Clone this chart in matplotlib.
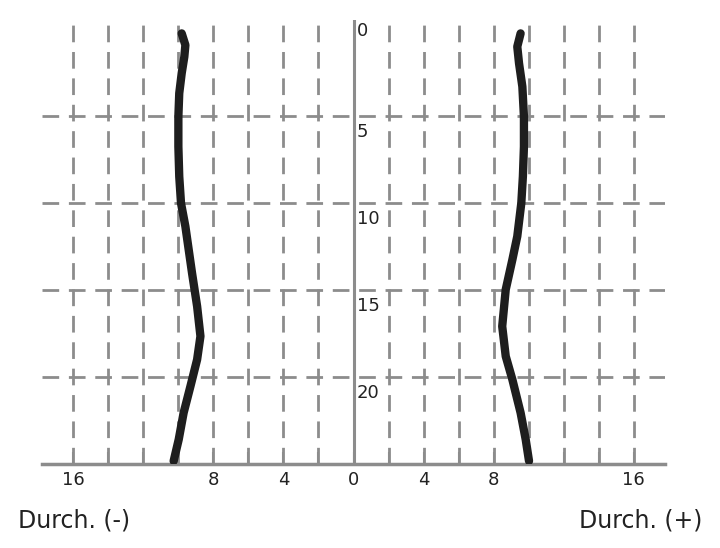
import numpy as np
import matplotlib.pyplot as plt

# depth values (y) and diameters
depth_l = [0.25, 0.92, 1.59, 2.54, 3.69, 5.03, 6.75, 8.47, 10.0, 11.34, 12.68,
           14.02, 15.93, 17.65, 18.99, 20.52, 22.05, 23.58, 24.82]
left_x = [-9.81, -9.6, -9.66, -9.81, -9.95, -10.0, -10.0, -9.95, -9.85, -9.6, -9.41,
          -9.22, -8.93, -8.74, -8.93, -9.31, -9.7, -9.98, -10.27]
depth_r = [0.25, 1.01, 1.97, 3.31, 5.03, 6.75, 8.47, 10.0, 11.91, 13.25,
           14.97, 17.08, 18.8, 20.14, 22.05, 23.58, 24.82]
right_x = [9.54, 9.35, 9.45, 9.64, 9.73, 9.73, 9.67, 9.58, 9.35, 9.07,
           8.69, 8.49, 8.69, 9.07, 9.54, 9.83, 10.02]

xticks = [-16, -8, -4, 0, 4, 8, 16]
yticks = [0, 5, 10, 15, 20]

grid_col = '#8c8c8c'
text_col = '#222222'
plt.rcParams['font.family'] = ['DejaVu Sans']

fig = plt.figure(figsize=(7.2, 5.48), dpi=100)
ax = fig.add_axes([0.058, 0.153, 0.866, 0.8105])
ax.set_xlim(-17.8, 17.8)
ax.set_ylim(25, -0.52)

# dashed grid
for x in range(-16, 17, 2):
    if x != 0:
        ax.axvline(x, color=grid_col, lw=2, ls=(0, (6, 3.5)), zorder=1)
for y in [5, 10, 15, 20]:
    ax.axhline(y, color=grid_col, lw=2, ls=(0, (6, 3.5)), zorder=1)
ax.axvline(0, color=grid_col, lw=2.2, zorder=2)

for s in ['top', 'right', 'left']:
    ax.spines[s].set_visible(False)
ax.spines['bottom'].set_color(grid_col)
ax.spines['bottom'].set_linewidth(2.5)

ax.set_xticks(range(-16, 17, 2))
ax.set_xticklabels([str(abs(t)) if t in xticks else '' for t in range(-16, 17, 2)])
ax.tick_params(axis='x', direction='in', length=9, width=1.5, color=grid_col,
               labelsize=13, pad=5, labelcolor=text_col)
ax.set_yticks([])

for y in yticks:
    if y == 0:
        ax.text(0.2, 0.1, '0', ha='left', va='center', fontsize=13, color=text_col)
    else:
        ax.text(0.2, y + 0.4, str(y), ha='left', va='top', fontsize=13, color=text_col)

ax.plot(left_x, depth_l, color='#1e1e1e', lw=6, solid_capstyle='round',
        solid_joinstyle='round', zorder=3)
ax.plot(right_x, depth_r, color='#1e1e1e', lw=6, solid_capstyle='round',
        solid_joinstyle='round', zorder=3)

fig.text(0.025, 0.051, 'Durch. (-)', ha='left', va='center', fontsize=17, color=text_col)
fig.text(0.975, 0.051, 'Durch. (+)', ha='right', va='center', fontsize=17, color=text_col)

fig.savefig('out.png', dpi=100)
